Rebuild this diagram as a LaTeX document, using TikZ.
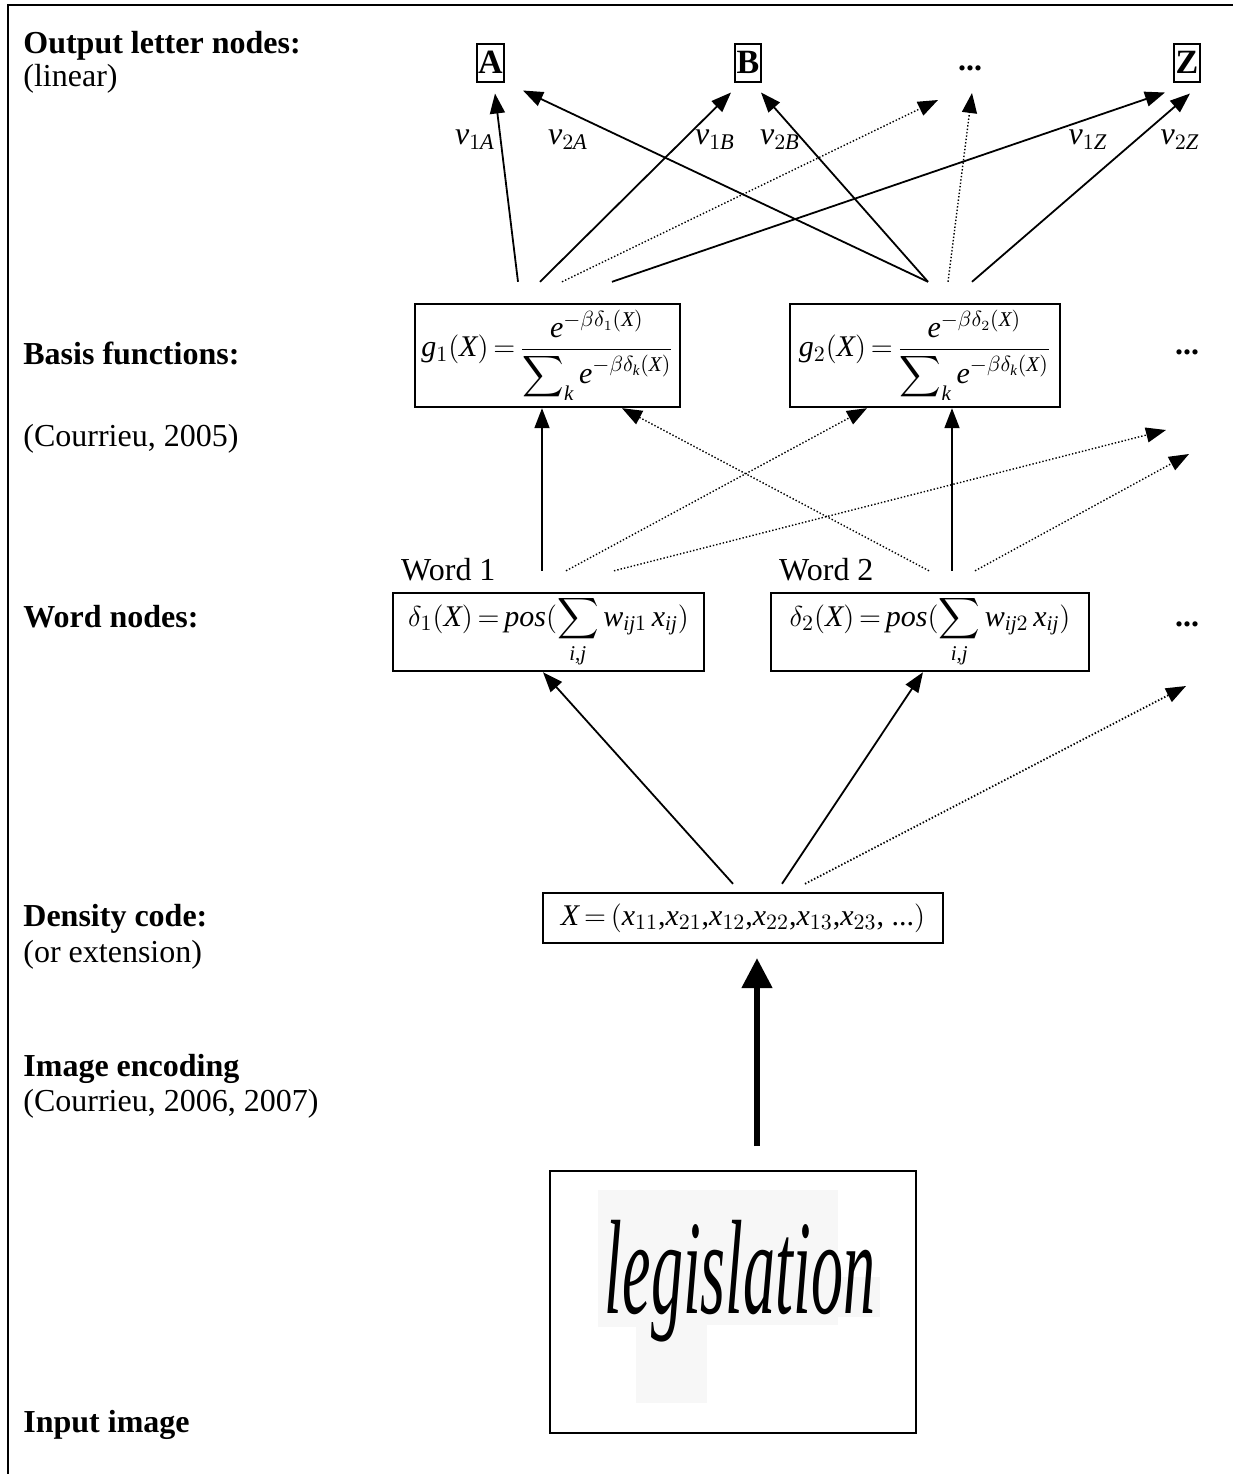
\documentclass[tikz,border=0pt]{standalone}
\usepackage{amsmath}
\usepackage{fontspec}
\setmainfont{Liberation Serif}
\usetikzlibrary{positioning,arrows.meta}

% Times-like letters and digits in the formulas
\DeclareSymbolFont{tlet}{TU}{\rmdefault}{m}{it}
\DeclareSymbolFont{tup}{TU}{\rmdefault}{m}{n}
\DeclareMathSymbol{A}{\mathalpha}{tlet}{`A}
\DeclareMathSymbol{B}{\mathalpha}{tlet}{`B}
\DeclareMathSymbol{X}{\mathalpha}{tlet}{`X}
\DeclareMathSymbol{Z}{\mathalpha}{tlet}{`Z}
\DeclareMathSymbol{e}{\mathalpha}{tlet}{`e}
\DeclareMathSymbol{g}{\mathalpha}{tlet}{`g}
\DeclareMathSymbol{i}{\mathalpha}{tlet}{`i}
\DeclareMathSymbol{j}{\mathalpha}{tlet}{`j}
\DeclareMathSymbol{k}{\mathalpha}{tlet}{`k}
\DeclareMathSymbol{o}{\mathalpha}{tlet}{`o}
\DeclareMathSymbol{p}{\mathalpha}{tlet}{`p}
\DeclareMathSymbol{s}{\mathalpha}{tlet}{`s}
\DeclareMathSymbol{v}{\mathalpha}{tlet}{`v}
\DeclareMathSymbol{w}{\mathalpha}{tlet}{`w}
\DeclareMathSymbol{x}{\mathalpha}{tlet}{`x}
\DeclareMathSymbol{1}{\mathalpha}{tup}{`1}
\DeclareMathSymbol{2}{\mathalpha}{tup}{`2}
\DeclareMathSymbol{3}{\mathalpha}{tup}{`3}
\DeclareMathSymbol{(}{\mathopen}{tup}{`(}
\DeclareMathSymbol{)}{\mathclose}{tup}{`)}
\DeclareMathSymbol{=}{\mathrel}{tup}{`=}
\DeclareMathSymbol{,}{\mathpunct}{tup}{`,}
\newcommand{\tightmath}{\thickmuskip=3mu\relax\medmuskip=2mu\relax}

\tikzset{
  layer/.style={anchor=base west, inner sep=0pt, font=\fontsize{16}{19}\selectfont\bfseries},
  remark/.style={anchor=base west, inner sep=0pt},
  unit/.style={draw, line width=1.2pt, inner xsep=2pt, inner ysep=0pt,
    font=\fontsize{15}{18}\selectfont\tightmath},
  letter/.style={draw, line width=1pt, inner xsep=0.6pt, minimum height=19pt, font=\fontsize{17}{20}\selectfont\bfseries},
  weight/.style={inner sep=0pt},
  more/.style={inner sep=0pt, font=\fontsize{16}{19}\selectfont\bfseries},
  link/.style={line width=0.9pt, -{Triangle[length=10pt,width=7.5pt]}},
  weak/.style={link, line width=0.7pt, dash pattern=on 0.7pt off 1pt},
  strong/.style={line width=2.6pt, -{Triangle[length=15pt,width=15pt]}},
}

\begin{document}
\begin{tikzpicture}[x=0.5pt, y=-0.5pt, font=\fontsize{16}{19}\selectfont]
\useasboundingbox (0,0) rectangle (1233,1474);
\draw[line width=1.3pt] (8,1474) -- (8,5) -- (1233,5);

% left column
\node[layer] at (23,53) {Output letter nodes:};
\node[remark] at (23,86) {(linear)};
\node[layer] at (23,364) {Basis functions:};
\node[remark] at (23,446) {(Courrieu, 2005)};
\node[layer] at (23,627) {Word nodes:};
\node[layer] at (23,926) {Density code:};
\node[remark] at (23,962) {(or extension)};
\node[layer] at (23,1076) {Image encoding};
\node[remark] at (23,1111) {(Courrieu, 2006, 2007)};
\node[layer] at (23,1432) {Input image};

% output letters
\node[letter] (A) at (490.5,62.5) {A};
\node[letter] (B) at (748,62.5) {B};
\node[more] (dots) at (970,68) {...};
\node[letter] (Z) at (1187,62.5) {Z};

% basis functions
\node[unit, minimum width=132.5pt, minimum height=51.5pt] (g1) at (547.5,355.5)
  {$\displaystyle g_1(X)=\frac{e^{-\beta\delta_1(X)}}{\displaystyle\sum\nolimits_k e^{-\beta\delta_k(X)}}$};
\node[unit, minimum width=135pt, minimum height=51.5pt] (g2) at (925,355.5)
  {$\displaystyle g_2(X)=\frac{e^{-\beta\delta_2(X)}}{\displaystyle\sum\nolimits_k e^{-\beta\delta_k(X)}}$};
\node[more] (bdots) at (1187,352) {...};

% word nodes
\node[unit, minimum width=155.5pt, minimum height=39pt] (w1) at (548.5,632)
  {$\displaystyle\delta_1(X)=pos(\sum_{i,j}w_{ij1}\,x_{ij})$};
\node[unit, minimum width=159pt, minimum height=39pt] (w2) at (930,632)
  {$\displaystyle\delta_2(X)=pos(\sum_{i,j}w_{ij2}\,x_{ij})$};
\node[weight, above right=5pt and 4.5pt of w1.north west] (word1) {Word 1};
\node[weight, above right=5pt and 4.5pt of w2.north west] (word2) {Word 2};
\node[more] (wdots) at (1187,624) {...};

% density code
\node[unit, minimum width=200pt, minimum height=25pt] (dens) at (743,918)
  {$X=(x_{11}{,}x_{21}{,}x_{12}{,}x_{22}{,}x_{13}{,}x_{23}{,}\ \mbox{...})$};

% input image
\node[unit, line width=1pt, minimum width=183pt, minimum height=131pt] (img) at (733,1302) {};
\fill[black!3] (598,1190) rectangle (707,1327);
\fill[black!3] (636,1267) rectangle (707,1403);
\fill[black!3] (707,1190) rectangle (838,1325);
\fill[black!3] (838,1277) rectangle (880,1317);
\node[anchor=base, inner sep=0pt, font=\fontsize{32}{32}\selectfont\itshape] (hand) at (740,1313)
  {\scalebox{1}[2.1]{legislation}};

% weights to the letters
\draw[link] ([xshift=-14.75pt,yshift=10.5pt]g1.north) -- ([xshift=2.25pt,yshift=-5.5pt]A.south);
\draw[link] ([xshift=-3.75pt,yshift=10.5pt]g1.north) -- ([xshift=-8.5pt,yshift=-5pt]B.south);
\draw[weak] ([xshift=7.25pt,yshift=10.5pt]g1.north) -- ([xshift=-16pt,yshift=-16pt]dots.center);
\draw[link] ([xshift=32.25pt,yshift=10.5pt]g1.north) -- ([xshift=-11pt,yshift=-5pt]Z.south);
\draw[link] ([xshift=1.5pt,yshift=10.5pt]g2.north) -- ([xshift=16.25pt,yshift=-4pt]A.south);
\draw[link] ([xshift=1.5pt,yshift=10.5pt]g2.north) -- ([xshift=6.5pt,yshift=-5pt]B.south);
\draw[weak] ([xshift=11.5pt,yshift=10.5pt]g2.north) -- ([xshift=1pt,yshift=-12.5pt]dots.center);
\draw[link] ([xshift=23.5pt,yshift=10.5pt]g2.north) -- ([xshift=1.5pt,yshift=-5.5pt]Z.south);
\node[weight] (v1A) at (475,140) {$v_{1A}$};
\node[weight] (v2A) at (568,140) {$v_{2A}$};
\node[weight] (v1B) at (715,140) {$v_{1B}$};
\node[weight] (v2B) at (780,140) {$v_{2B}$};
\node[weight] (v1Z) at (1088,140) {$v_{1Z}$};
\node[weight] (v2Z) at (1180,140) {$v_{2Z}$};

% words to basis functions
\coordinate (b3) at (1166,430);
\coordinate (b4) at (1189,454);
\draw[link] ([xshift=-3.25pt,yshift=10.5pt]w1.north) -- ([xshift=-2.75pt]g1.south);
\draw[weak] ([xshift=8.75pt,yshift=10.5pt]w1.north) -- ([xshift=-29pt]g2.south);
\draw[weak] ([xshift=32.75pt,yshift=10.5pt]w1.north) -- (b3);
\draw[weak] ([xshift=-0.5pt,yshift=10.5pt]w2.north) -- ([xshift=37.25pt]g1.south);
\draw[link] ([xshift=11pt,yshift=10.5pt]w2.north) -- ([xshift=13.5pt]g2.south);
\draw[weak] ([xshift=22.5pt,yshift=10.5pt]w2.north) -- (b4);

% code to words
\coordinate (w3) at (1186,686);
\draw[link] ([xshift=-5pt,yshift=4pt]dens.north) -- ([xshift=-2.75pt]w1.south);
\draw[link] ([xshift=19.5pt,yshift=4pt]dens.north) -- ([xshift=-3.5pt]w2.south);
\draw[weak, line width=0.9pt] ([xshift=31pt,yshift=4pt]dens.north) -- (w3);

% encoding
\draw[strong] ([xshift=12pt,yshift=12pt]img.north) -- ([xshift=7pt,yshift=-7pt]dens.south);
\end{tikzpicture}
\end{document}
